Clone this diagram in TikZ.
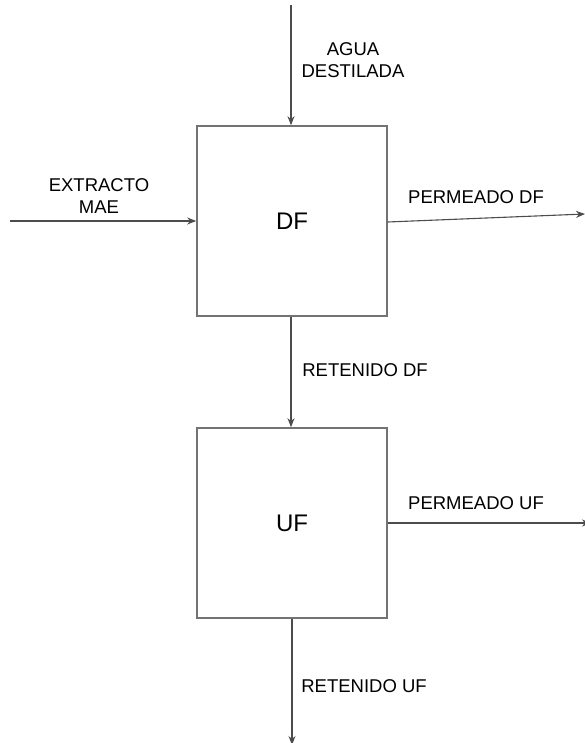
\documentclass[tikz,border=0pt]{standalone}
\usepackage{fontspec}
\setmainfont{Liberation Sans}
\usetikzlibrary{arrows.meta}
\begin{document}
\begin{tikzpicture}[x=1pt,y=-1pt,
  unitbox/.style={draw=black!55,line width=1.6pt,minimum width=190pt,minimum height=190pt,inner sep=0pt,font=\fontsize{24}{28}\selectfont},
  flow/.style={draw=black!70,line width=1.1pt,-{Stealth[length=9pt,width=7pt]}},
  lbl/.style={font=\fontsize{18.5}{21.5}\selectfont,align=center,inner sep=0pt,text=black}]
\useasboundingbox (0,0) rectangle (585,743);
% process units
\node[unitbox] (df) at (292,221) {DF};
\node[unitbox] (uf) at (292,523) {UF};
% free ends of the streams
\coordinate (water) at (291,5);
\coordinate (feed) at (10,221);
\coordinate (permdf) at (585,214);
\coordinate (permuf) at (591,523);
\coordinate (retuf) at (292,745);
% streams
\draw[flow] (water) -- (df.north -| water);
\draw[flow] (feed) -- (df.west);
\draw[flow] (df.east) ++(0,1) -- (permdf);
\draw[flow] (df.south -| 291,0) -- (uf.north -| 291,0);
\draw[flow] (uf.east) -- (permuf);
\draw[flow] (uf.south) -- (retuf);
% stream labels
\node[lbl] (lwater) at (353,60) {AGUA\\DESTILADA};
\node[lbl] (lfeed) at (99,196) {EXTRACTO\\MAE};
\node[lbl] (lpermdf) at (476,197) {PERMEADO DF};
\node[lbl] (lretdf) at (365,370) {RETENIDO DF};
\node[lbl] (lpermuf) at (476,503) {PERMEADO UF};
\node[lbl] (lretuf) at (364,686) {RETENIDO UF};
\end{tikzpicture}
\end{document}
